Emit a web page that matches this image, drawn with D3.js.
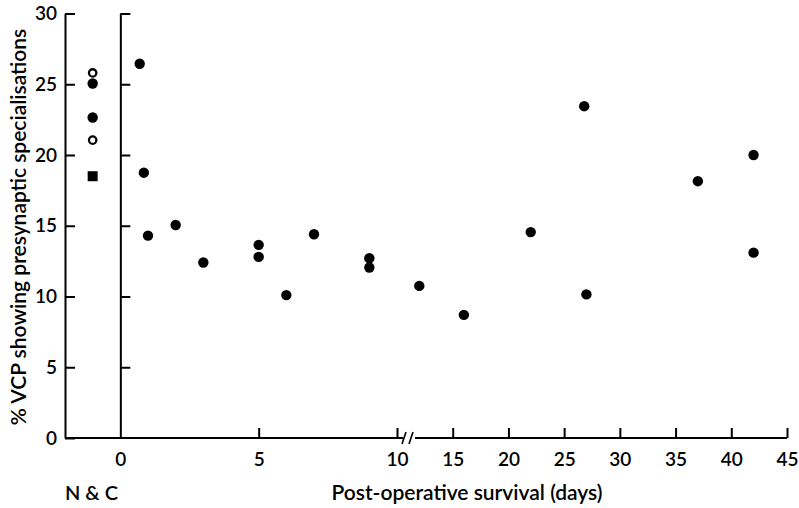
<!DOCTYPE html>
<html>
<head>
<meta charset="utf-8">
<script src="https://cdn.jsdelivr.net/npm/d3@7"></script>
<style>
  body { margin: 0; background: #fff; }
  text { font-family: Lato, "Open Sans", sans-serif; fill: #000; font-weight: 600; }
</style>
</head>
<body>
<div id="chart"></div>
<script>
// Chart size
var width = 799;
var height = 508;

// Normal & control column (plotted at day -1)
var ncFilled = [25.05, 22.65];
var ncOpen = [25.8, 21.05];
var ncSquare = [18.5];

// Post-operative survival points
var days = [0.7, 0.85, 1, 2, 3, 5, 5, 6, 7, 9, 9, 12, 16, 22, 26.8, 27, 37, 42, 42];
var values = [26.45, 18.75, 14.3, 15.05, 12.4, 13.65, 12.8, 10.1, 14.4, 12.7, 12.05, 10.75, 8.7, 14.55, 23.45, 10.15, 18.15, 20.0, 13.1];

// Tick labels
var xTicks = [0, 5, 10, 15, 20, 25, 30, 35, 40, 45];
var yTicks = [0, 5, 10, 15, 20, 25, 30];

// Broken x scale: 0-10 stretched, 10-45 compressed
var x = d3.scaleLinear()
  .domain([-2, 10, 45])
  .range([65, 397, 787]);

var y = d3.scaleLinear()
  .domain([0, 30])
  .range([438, 13.5]);

var svg = d3.select("#chart")
  .append("svg")
    .attr("width", width)
    .attr("height", height);

// Left y axis with labels
var yAxis = svg.append("g")
    .attr("transform", "translate(" + x(-2) + ",0)")
    .call(d3.axisLeft(y)
      .tickValues(yTicks)
      .tickSizeInner(-10)
      .tickSizeOuter(0)
      .tickPadding(8));

// Second vertical axis at day 0
var y2Axis = svg.append("g")
    .attr("transform", "translate(" + x(0) + ",0)")
    .call(d3.axisLeft(y)
      .tickValues(yTicks.filter(function(d) { return d > 0; }))
      .tickSizeInner(-10)
      .tickSizeOuter(0)
      .tickFormat(""));

// X axis ticks + labels (domain line drawn separately for the break)
var xAxis = svg.append("g")
    .attr("transform", "translate(0," + y(0) + ")")
    .call(d3.axisBottom(x)
      .tickValues(xTicks)
      .tickSizeInner(-10)
      .tickSizeOuter(0)
      .tickPadding(15));

xAxis.select(".domain").remove();
xAxis.selectAll(".tick").filter(function(d) { return d === 0; }).select("line").remove();

[yAxis, y2Axis, xAxis].forEach(function(g) {
  g.selectAll("path, line").attr("stroke", "#000").attr("stroke-width", 2);
  g.selectAll("text")
    .style("font-family", "Lato, 'Open Sans', sans-serif")
    .style("font-weight", 600)
    .style("font-size", "19px");
});

// Baseline with a break after 10
var brk = x(10) + 6;
svg.append("line")
    .attr("x1", x(-2)).attr("x2", brk)
    .attr("y1", y(0)).attr("y2", y(0))
    .attr("stroke", "#000").attr("stroke-width", 2);
svg.append("line")
    .attr("x1", brk + 12).attr("x2", x(45))
    .attr("y1", y(0)).attr("y2", y(0))
    .attr("stroke", "#000").attr("stroke-width", 2);
[brk, brk + 7].forEach(function(bx) {
  svg.append("line")
      .attr("x1", bx - 1).attr("x2", bx + 3)
      .attr("y1", y(0) + 6).attr("y2", y(0) - 6)
      .attr("stroke", "#000").attr("stroke-width", 1.6);
});

// Points
var pts = days.map(function(d, i) { return {day: d, value: values[i]}; });

svg.selectAll(".dot")
  .data(pts)
  .enter().append("circle")
    .attr("class", "dot")
    .attr("cx", function(d) { return x(d.day); })
    .attr("cy", function(d) { return y(d.value); })
    .attr("r", 5.2)
    .attr("fill", "#000");

svg.selectAll(".ncf")
  .data(ncFilled)
  .enter().append("circle")
    .attr("class", "ncf")
    .attr("cx", x(-1))
    .attr("cy", function(d) { return y(d); })
    .attr("r", 5.2)
    .attr("fill", "#000");

svg.selectAll(".nco")
  .data(ncOpen)
  .enter().append("circle")
    .attr("class", "nco")
    .attr("cx", x(-1))
    .attr("cy", function(d) { return y(d); })
    .attr("r", 3.7)
    .attr("fill", "#fff")
    .attr("stroke", "#000")
    .attr("stroke-width", 2.3);

svg.selectAll(".ncs")
  .data(ncSquare)
  .enter().append("rect")
    .attr("class", "ncs")
    .attr("x", x(-1) - 5)
    .attr("y", function(d) { return y(d) - 5; })
    .attr("width", 10)
    .attr("height", 10)
    .attr("fill", "#000");

// Titles
svg.append("text")
    .attr("transform", "translate(26," + 227 + ") rotate(-90)")
    .attr("text-anchor", "middle")
    .style("font-size", "21px")
    .text("% VCP showing presynaptic specialisations");

svg.append("text")
    .attr("x", 467)
    .attr("y", 500)
    .attr("text-anchor", "middle")
    .style("font-size", "21px")
    .text("Post-operative survival (days)");

svg.append("text")
    .attr("x", 65)
    .attr("y", 500)
    .style("font-size", "20px")
    .text("N & C");
</script>
</body>
</html>
